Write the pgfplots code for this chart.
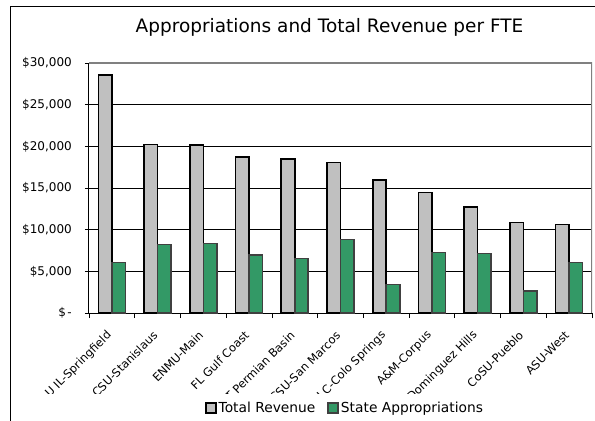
\documentclass[border=0pt]{standalone}
\usepackage{pgfplots}
\pgfplotsset{compat=1.18}
\usepackage{fontspec}
\setmainfont{DejaVu Sans}
\definecolor{revgray}{RGB}{192,192,192}
\definecolor{appgreen}{RGB}{51,153,102}
\begin{document}
\begin{tikzpicture}
\begin{scope}
\clip (-89bp,-80bp) rectangle (506bp,313bp);
\begin{axis}[
    at={(0,0)}, anchor=south west,
    scale only axis, width=503bp, height=250bp,
    ybar=0pt, bar width=13.5bp,
    xmin=-0.5, xmax=10.5,
    ymin=0, ymax=30000,
    scaled y ticks=false,
    axis x line*=bottom, axis y line*=left,
    axis line style={black, line width=1bp},
    xtick={0,...,10},
    xticklabels={U IL-Springfield, CSU-Stanislaus, ENMU-Main, FL Gulf Coast, UT Permian Basin, CSU-San Marcos, U C-Colo Springs, A\&M-Corpus, CSU-Dominguez Hills, CoSU-Pueblo, ASU-West},
    xticklabel shift=0pt,
    x tick label style={font=\fontsize{11.5bp}{13bp}\selectfont, rotate=45, anchor=east, inner sep=0bp, xshift=-13bp, yshift=-10bp},
    major x tick style={draw=none},
    minor xtick={-0.5,0.5,...,10.5},
    minor x tick style={black, line width=0.8bp},
    minor tick length=5bp,
    tick align=outside,
    ytick={0,5000,...,30000},
    yticklabels={{\$\hspace{1.5bp}-}, {\$5,000}, {\$10,000}, {\$15,000}, {\$20,000}, {\$25,000}, {\$30,000}},
    y tick label style={font=\fontsize{12bp}{14bp}\selectfont, inner sep=1bp, xshift=-12bp},
    major y tick style={black, line width=0.8bp},
    major tick length=4bp,
    ymajorgrids,
    grid style={black, line width=0.8bp},
]
\addplot[fill=revgray, draw=black, line width=1.6bp] coordinates {
(0,28550) (1,20200) (2,20150) (3,18700) (4,18500) (5,18050) (6,15950) (7,14480) (8,12720) (9,10840) (10,10600)};
\addplot[fill=appgreen, draw=black!75, line width=1.6bp] coordinates {
(0,6080) (1,8240) (2,8360) (3,6960) (4,6520) (5,8840) (6,3440) (7,7240) (8,7160) (9,2640) (10,6080)};
\draw[gray, line width=1.2bp] (rel axis cs:0,1) -- (rel axis cs:1,1) -- (rel axis cs:1,0);
\end{axis}
\end{scope}
\begin{axis}[
    at={(0,0)}, anchor=south west,
    scale only axis, width=503bp, height=250bp,
    hide axis, xmin=0, xmax=1, ymin=0, ymax=1,
    legend style={at={(0.509,-0.38)}, anchor=center, draw=none, fill=none,
        font=\fontsize{13.8bp}{16bp}\selectfont, legend columns=2,
        /tikz/every even column/.append style={column sep=10bp}},
    legend image code/.code={\draw[#1] (0bp,-5bp) rectangle (10bp,5bp);},
]
\addlegendimage{fill=revgray, draw=black, line width=1.6bp}
\addlegendentry{Total Revenue}
\addlegendimage{fill=appgreen, draw=black!75, line width=1.6bp}
\addlegendentry{State Appropriations}
\end{axis}
\node[font=\fontsize{18.5bp}{22bp}\selectfont] at (240.5bp,286bp) {Appropriations and Total Revenue per FTE};
\draw[black, line width=1bp] (-78bp,-108bp) -- (-78bp,306bp) -- (506bp,306bp);
\pgfresetboundingbox
\path[use as bounding box] (-89bp,-108bp) rectangle (506bp,313bp);
\end{tikzpicture}
\end{document}
